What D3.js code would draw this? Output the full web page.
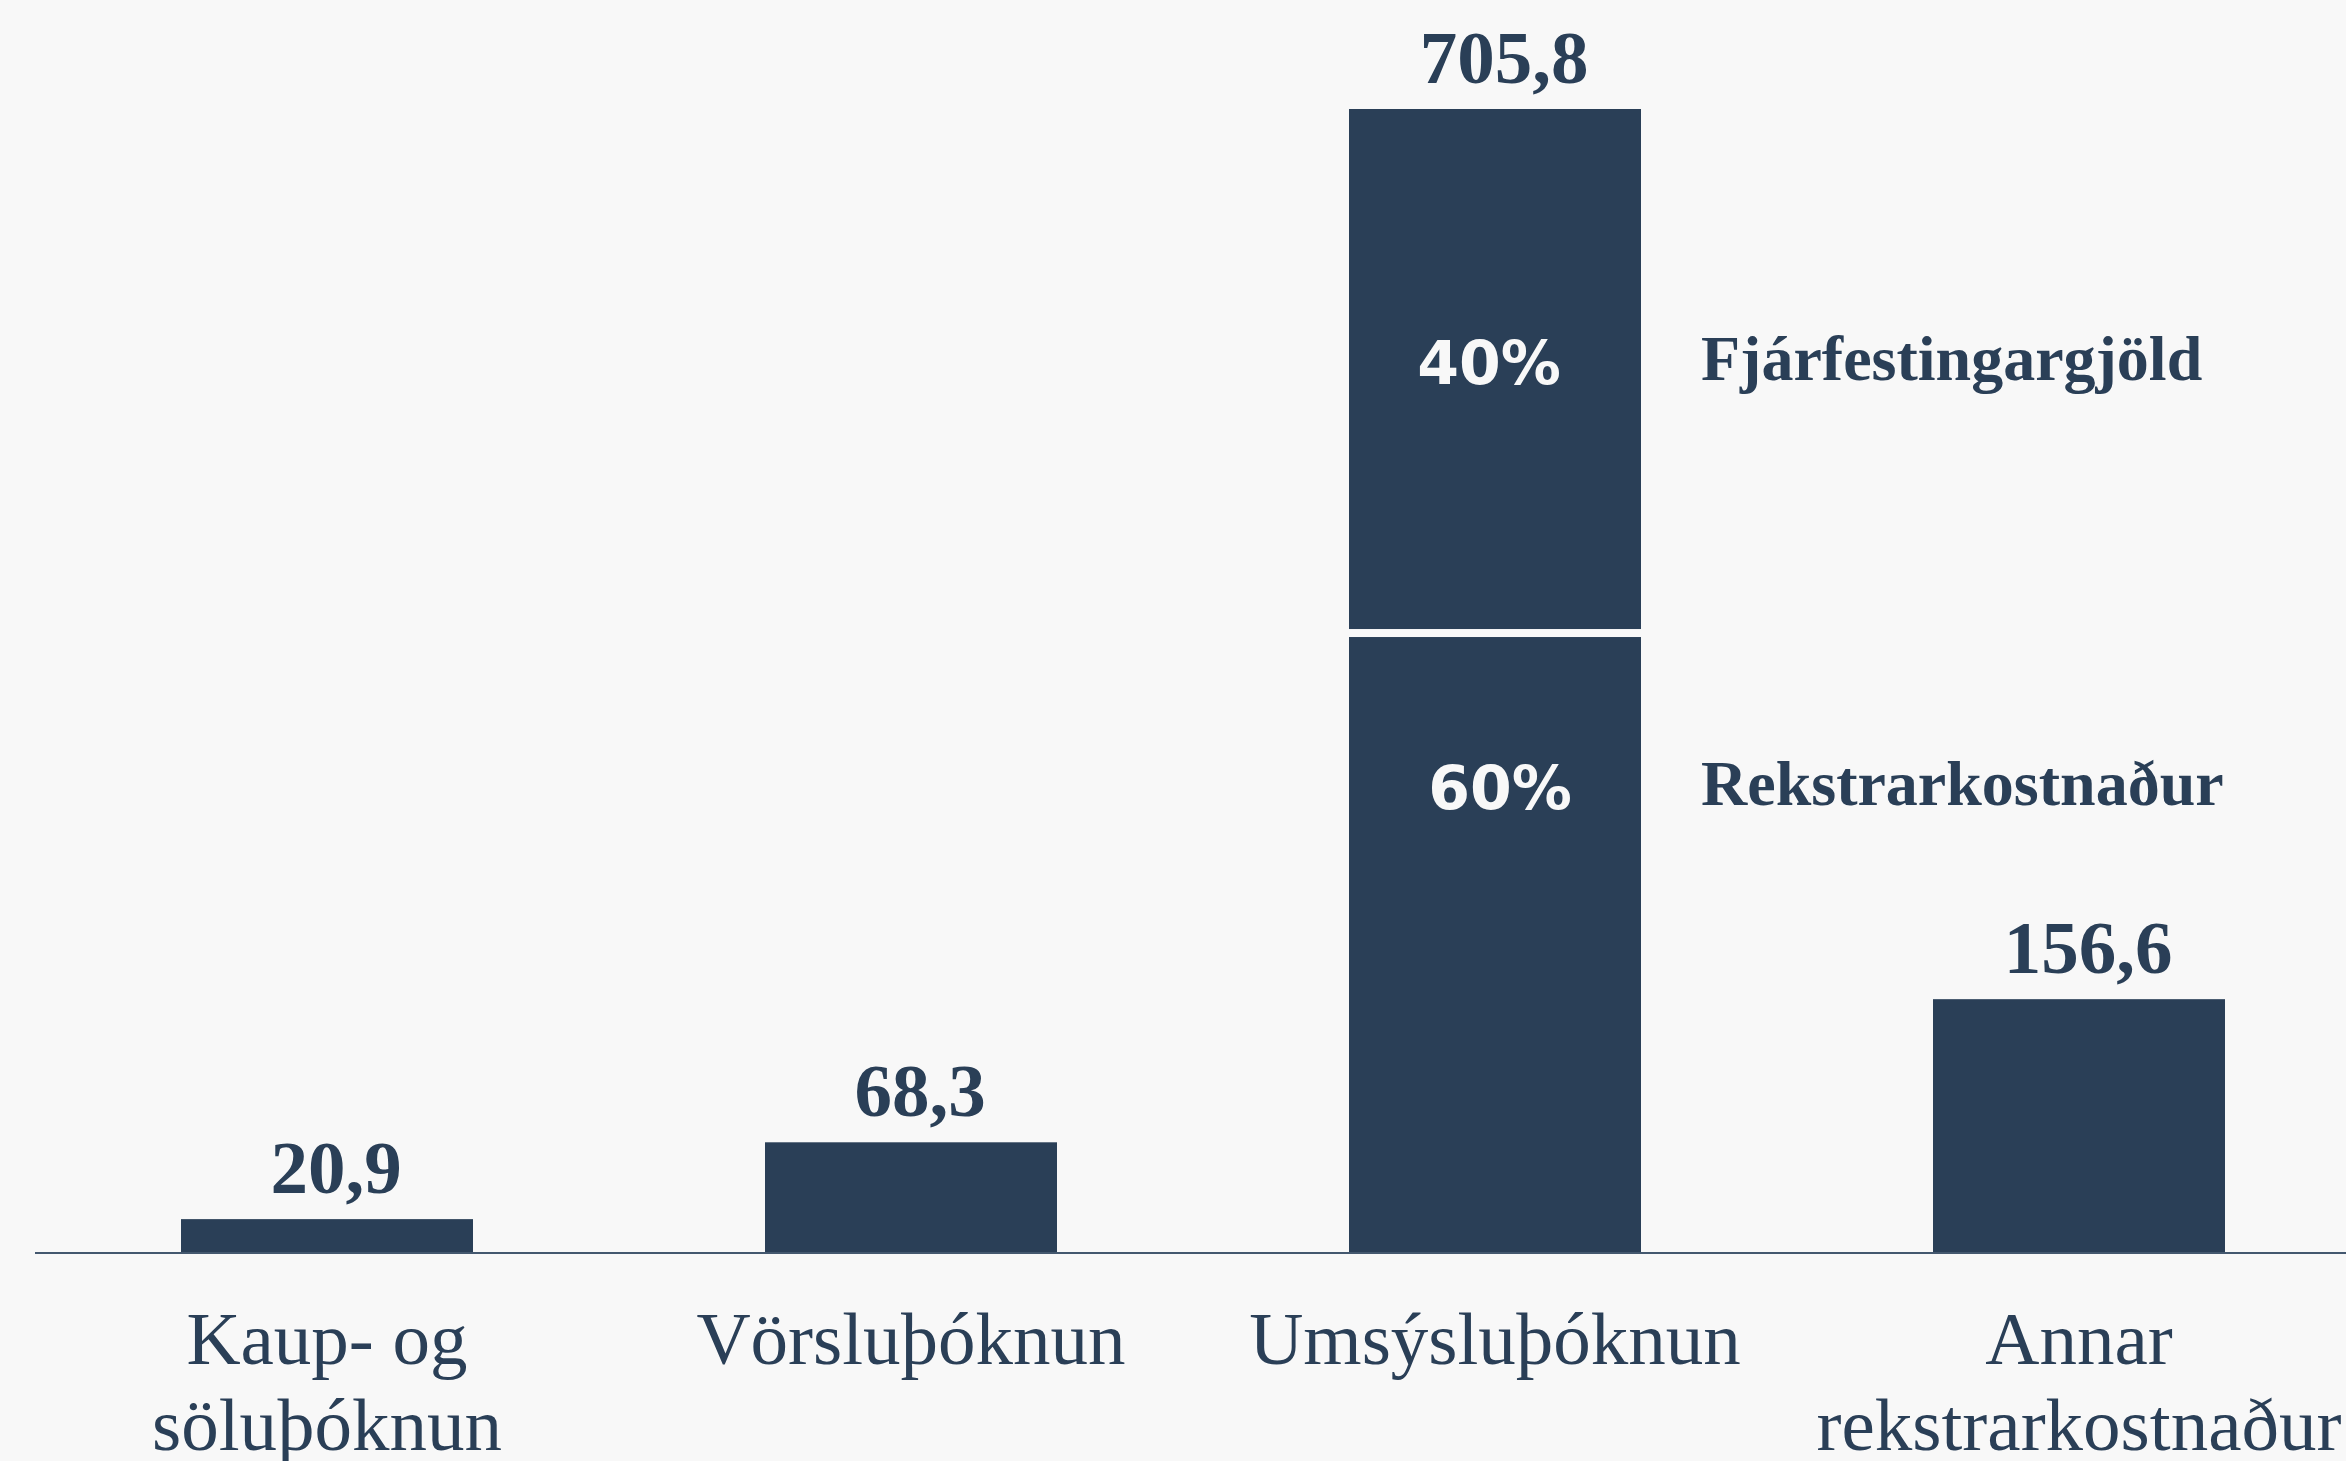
<!DOCTYPE html>
<html>
<head>
<meta charset="utf-8">
<script src="https://cdn.jsdelivr.net/npm/d3@7"></script>
<style>
  body { margin: 0; background: #f8f8f8; }
  svg { display: block; }
</style>
</head>
<body>
<div class="visHolder"></div>
<script>
// categories and totals (ma.kr.)
const categories = ['Kaup- og söluþóknun', 'Vörsluþóknun', 'Umsýsluþóknun', 'Annar rekstrarkostnaður'];
const labelLines = [['Kaup- og', 'söluþóknun'], ['Vörsluþóknun'], ['Umsýsluþóknun'], ['Annar', 'rekstrarkostnaður']];
const totals = [20.9, 68.3, 705.8, 156.6];
const totalLabels = ['20,9', '68,3', '705,8', '156,6'];

// breakdown of Umsýsluþóknun, bottom first
const splitCategory = 'Umsýsluþóknun';
const splitNames = ['Rekstrarkostnaður', 'Fjárfestingargjöld'];
const splitValues = [382.5, 323.3];
const splitLabels = ['60%', '40%'];

const w = 2346, h = 1461;
const navy = '#2a3f57';
const serif = '"Liberation Serif", "Times New Roman", Times, serif';

const svg = d3.select('.visHolder')
  .append('svg')
  .attr('width', w)
  .attr('height', h);

svg.append('rect').attr('width', w).attr('height', h).attr('fill', '#f8f8f8');

const xScale = d3.scaleBand()
  .domain(categories)
  .range([35, 2371])
  .paddingInner(0.5)
  .paddingOuter(0.25);

const yScale = d3.scaleLinear()
  .domain([0, d3.max(totals)])
  .range([1253, 109]);

const data = categories.map((c, i) => ({cat: c, value: totals[i], label: totalLabels[i], lines: labelLines[i]}));

// plain bars
svg.selectAll('.bar')
  .data(data.filter(d => d.cat !== splitCategory))
  .enter()
  .append('rect')
  .attr('class', 'bar')
  .attr('x', d => xScale(d.cat))
  .attr('y', d => yScale(d.value))
  .attr('width', xScale.bandwidth())
  .attr('height', d => yScale(0) - yScale(d.value))
  .attr('fill', navy);

// stacked bar, with a small gap between the two parts
let acc = 0;
const segs = splitValues.map((v, i) => {
  const s = {name: splitNames[i], label: splitLabels[i], y0: acc, y1: acc + v, i: i};
  acc += v;
  return s;
});
const gap = 4;
const last = segs.length - 1;
svg.selectAll('.seg')
  .data(segs)
  .enter()
  .append('rect')
  .attr('class', 'seg')
  .attr('x', xScale(splitCategory))
  .attr('width', xScale.bandwidth())
  .attr('y', d => yScale(d.y1) + (d.i === last ? 0 : gap))
  .attr('height', d => yScale(d.y0) - yScale(d.y1) - (d.i === last ? 0 : gap) - (d.i === 0 ? 0 : gap))
  .attr('fill', navy);

// percent labels inside segments + names to the right
const segLabelY = d => {
  const top = yScale(d.y1), bottom = yScale(d.y0);
  // lower part label sits high in its block, upper one near the middle
  const f = d.i === 0 ? 0.25 : 0.485;
  return top + (bottom - top) * f + 21;
};
const cx = xScale(splitCategory) + xScale.bandwidth() / 2;

svg.selectAll('.pct')
  .data(segs)
  .enter()
  .append('text')
  .attr('class', 'pct')
  .attr('x', d => cx + (d.i === 0 ? 5 : -6))
  .attr('y', segLabelY)
  .attr('text-anchor', 'middle')
  .attr('fill', '#f8f8f8')
  .style('font-family', '"DejaVu Sans", Verdana, sans-serif')
  .style('font-weight', 'bold')
  .style('font-size', '60px')
  .text(d => d.label);

svg.selectAll('.segname')
  .data(segs)
  .enter()
  .append('text')
  .attr('class', 'segname')
  .attr('x', xScale(splitCategory) + xScale.bandwidth() + 60)
  .attr('y', d => segLabelY(d) - 4)
  .attr('fill', navy)
  .style('font-family', serif)
  .style('font-weight', 'bold')
  .style('font-size', '64px')
  .text(d => d.name);

// value labels above bars
svg.selectAll('.val')
  .data(data)
  .enter()
  .append('text')
  .attr('class', 'val')
  .attr('x', d => xScale(d.cat) + xScale.bandwidth() / 2 + 9)
  .attr('y', d => yScale(d.value) - 26)
  .attr('text-anchor', 'middle')
  .attr('fill', navy)
  .style('font-family', serif)
  .style('font-weight', 'bold')
  .style('font-size', '75px')
  .text(d => d.label);

// baseline axis
svg.append('line')
  .attr('x1', 35)
  .attr('x2', w)
  .attr('y1', yScale(0))
  .attr('y2', yScale(0))
  .attr('stroke', '#44586f')
  .attr('stroke-width', 2);

// category labels
const cats = svg.selectAll('.cat')
  .data(data)
  .enter()
  .append('text')
  .attr('class', 'cat')
  .attr('text-anchor', 'middle')
  .attr('fill', navy)
  .style('font-family', serif)
  .style('font-size', '75px');

cats.selectAll('tspan')
  .data(d => d.lines.map(l => ({l: l, x: xScale(d.cat) + xScale.bandwidth() / 2})))
  .enter()
  .append('tspan')
  .attr('x', d => d.x)
  .attr('y', (d, i) => 1364 + i * 86)
  .text(d => d.l);
</script>
</body>
</html>
